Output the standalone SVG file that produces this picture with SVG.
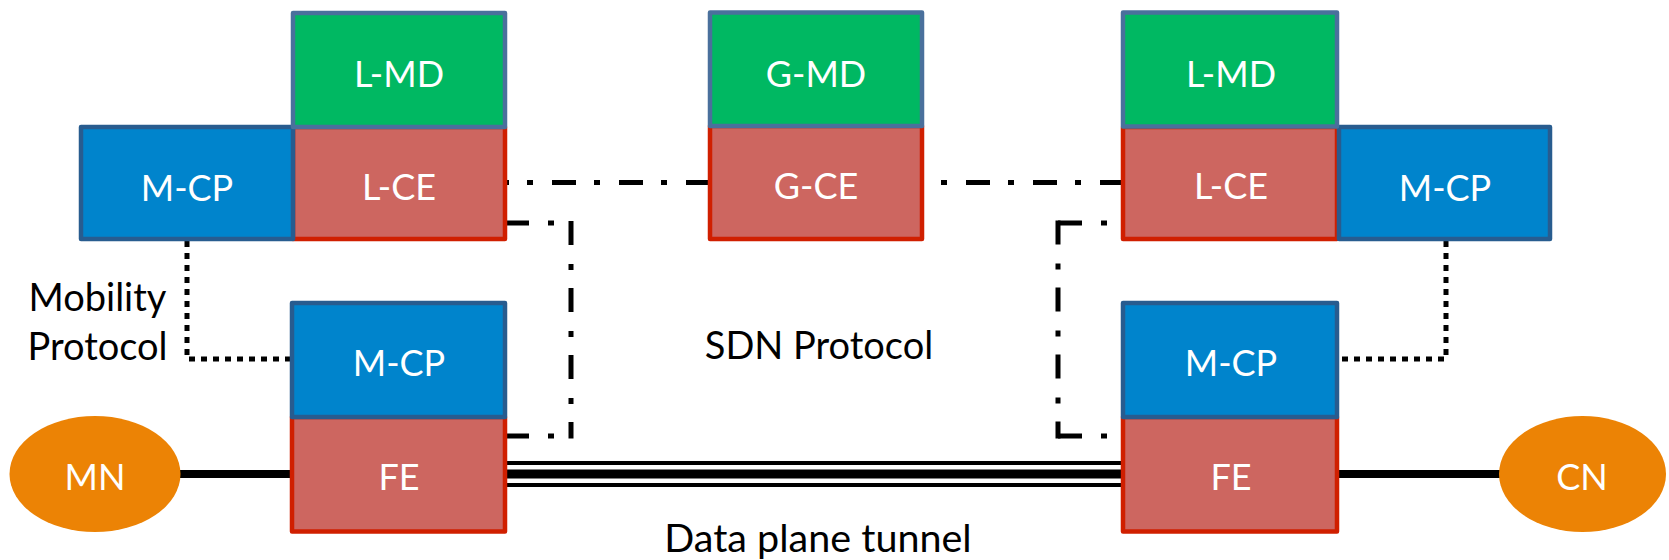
<svg xmlns="http://www.w3.org/2000/svg" width="1669" height="560" viewBox="0 0 1669 560">
  <defs>
    <style>
      .md{fill:#00B862;stroke:#4A709C;stroke-width:4.5;stroke-linejoin:round}
      .ce{fill:#CD6660;stroke:#D01F00;stroke-width:4.5;stroke-linejoin:round}
      .cp{fill:#0084CC;stroke:#285C8F;stroke-width:4.5;stroke-linejoin:round}
      .host{fill:#EC8305}
      .lbl{font-family:Lato,"Liberation Sans",sans-serif;font-size:36px;fill:#FFFFFF;text-anchor:middle}
      .cap{font-family:Lato,"Liberation Sans",sans-serif;font-size:38px;fill:#000000;text-anchor:middle}
      .sdn{fill:none;stroke:#000;stroke-width:5;stroke-dasharray:24 19 6 18}
      .mob{fill:none;stroke:#000;stroke-width:5;stroke-dasharray:6 6}
      .link{fill:none;stroke:#000;stroke-width:8}
      .tun{fill:none;stroke:#000}
    </style>
  </defs>

  <!-- connectors -->
  <g id="connectors">
    <!-- SDN protocol between controllers -->
    <path class="sdn" d="M710 182.5 H505"/>
    <path class="sdn" d="M1124 182.5 H918"/>
    <!-- SDN protocol from local controllers down to forwarding elements -->
    <path class="sdn" d="M505 223 H571"/>
    <path class="sdn" d="M571 221 V438.5"/>
    <path class="sdn" d="M505 436 H571"/>
    <path class="sdn" d="M1058 223 H1124"/>
    <path class="sdn" d="M1058 220.5 V438.5"/>
    <path class="sdn" d="M1058 436 H1124"/>
    <!-- mobility protocol -->
    <path class="mob" d="M187 241 V359 H291"/>
    <path class="mob" d="M1446 241 V359 H1339"/>
    <!-- access links -->
    <path class="link" d="M179 474 H293"/>
    <path class="link" d="M1336 474 H1501"/>
    <!-- data plane tunnel -->
    <path class="tun" stroke-width="4" d="M505 463 H1124"/>
    <path class="tun" stroke-width="9" d="M505 474 H1124"/>
    <path class="tun" stroke-width="4" d="M505 485 H1124"/>
  </g>

  <!-- left local domain -->
  <g id="left-lce">
    <rect class="ce" x="293" y="127" width="212" height="112"/>
    <text class="lbl" x="399" y="200">L-CE</text>
  </g>
  <g id="left-mcp-top">
    <rect class="cp" x="81" y="127" width="212" height="112"/>
    <text class="lbl" x="187" y="201">M-CP</text>
  </g>
  <g id="left-lmd">
    <rect class="md" x="293" y="13" width="212" height="114"/>
    <text class="lbl" x="399" y="87">L-MD</text>
  </g>

  <!-- global domain -->
  <g id="gce">
    <rect class="ce" x="710" y="126" width="212" height="113"/>
    <text class="lbl" x="816" y="199">G-CE</text>
  </g>
  <g id="gmd">
    <rect class="md" x="710" y="12.5" width="212" height="113.5"/>
    <text class="lbl" x="816" y="87">G-MD</text>
  </g>

  <!-- right local domain -->
  <g id="right-lce">
    <rect class="ce" x="1123" y="127" width="214" height="112"/>
    <text class="lbl" x="1231" y="199">L-CE</text>
  </g>
  <g id="right-mcp-top">
    <rect class="cp" x="1339" y="127" width="211" height="112"/>
    <text class="lbl" x="1445" y="201">M-CP</text>
  </g>
  <g id="right-lmd">
    <rect class="md" x="1123" y="12.5" width="214" height="114"/>
    <text class="lbl" x="1231" y="87">L-MD</text>
  </g>

  <!-- left access node -->
  <g id="left-fe">
    <rect class="ce" x="292" y="417" width="213" height="114.5"/>
    <text class="lbl" x="399" y="490">FE</text>
  </g>
  <g id="left-mcp-bottom">
    <rect class="cp" x="292" y="303" width="213" height="114"/>
    <text class="lbl" x="399" y="376">M-CP</text>
  </g>

  <!-- right access node -->
  <g id="right-fe">
    <rect class="ce" x="1123" y="417" width="214" height="114.5"/>
    <text class="lbl" x="1231" y="490">FE</text>
  </g>
  <g id="right-mcp-bottom">
    <rect class="cp" x="1123" y="303" width="214" height="114"/>
    <text class="lbl" x="1231" y="376">M-CP</text>
  </g>

  <!-- hosts -->
  <g id="mn">
    <ellipse class="host" cx="95" cy="474" rx="85.5" ry="58"/>
    <text class="lbl" x="95" y="490">MN</text>
  </g>
  <g id="cn">
    <ellipse class="host" cx="1582.5" cy="474" rx="83.5" ry="58"/>
    <text class="lbl" x="1582" y="490">CN</text>
  </g>

  <!-- captions -->
  <g id="captions">
    <text class="cap" x="97.5" y="310.5">Mobility</text>
    <text class="cap" x="97.5" y="360">Protocol</text>
    <text class="cap" x="819" y="359">SDN Protocol</text>
    <text class="cap" x="818" y="552" style="font-size:39.5px">Data plane tunnel</text>
  </g>
</svg>
